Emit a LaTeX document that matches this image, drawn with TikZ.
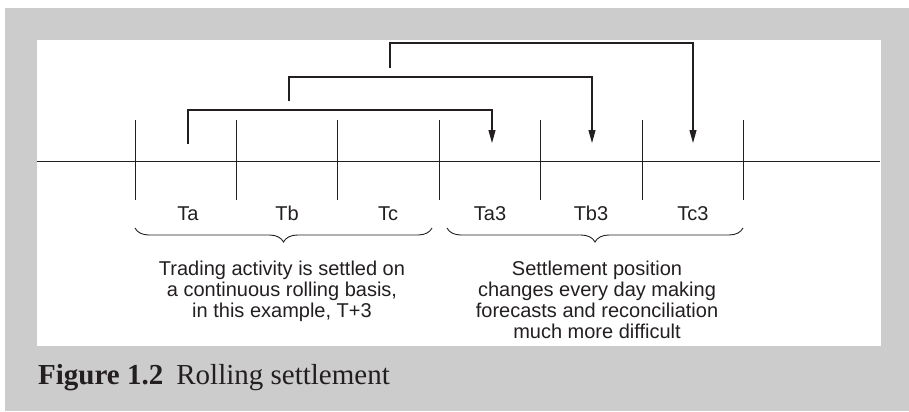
\documentclass[tikz,border=0pt]{standalone}
\usepackage{fontspec}
\setmainfont{Liberation Serif}
\newfontfamily\diagfont{Liberation Sans}
\usetikzlibrary{arrows.meta,decorations.pathreplacing}
\definecolor{panelgrey}{HTML}{CCCCCC}
\definecolor{ink}{HTML}{231F20}

\begin{document}
\begin{tikzpicture}[x=1bp,y=1bp,
  rule/.style={draw=ink,line width=0.9bp},
  link/.style={draw=ink,line width=1.1bp,-{Triangle[length=13bp,width=7bp]}},
  lbl/.style={font=\diagfont\fontsize{20bp}{21bp}\selectfont,text=ink,inner sep=0pt,anchor=base},
  note/.style={lbl,align=center,anchor=north},
  span/.style={draw=ink,line width=0.9bp,decorate,decoration={brace,mirror,amplitude=14bp}}]

% page, grey panel and white figure area
\useasboundingbox (0,0) rectangle (909,-411);
\fill[white] (0,0) rectangle (909,-411);
\fill[panelgrey] (5,-8) rectangle (909,-411);
\fill[white] (37,-40) rectangle (881,-346);

% time axis
\coordinate (axL) at (37,-161);
\coordinate (axR) at (880,-161);
\draw[rule] (axL) -- (axR);

% day boundaries
\foreach \i/\x in {0/135,1/236,2/337,3/439,4/540,5/642,6/743} {
  \coordinate (tt\i) at (\x,-120);
  \coordinate (tb\i) at (\x,-200);
  \draw[rule] (tt\i) -- (tb\i);
}

% trade day to settlement day links
\coordinate (s1) at (188,-144); \coordinate (k1) at (492,-110); \coordinate (e1) at (492,-143);
\coordinate (s2) at (289,-101); \coordinate (k2) at (592,-77);  \coordinate (e2) at (592,-143);
\coordinate (s3) at (390,-68);  \coordinate (k3) at (693,-43);  \coordinate (e3) at (693,-143);
\draw[link] (s1) |- (k1) -- (e1);
\draw[link] (s2) |- (k2) -- (e2);
\draw[link] (s3) |- (k3) -- (e3);

% day labels
\node[lbl] (ta)  at (188,-220) {Ta};
\node[lbl] (tb)  at (287,-220) {Tb};
\node[lbl] (tc)  at (388,-220) {Tc};
\node[lbl] (ta3) at (490,-220) {Ta3};
\node[lbl] (tb3) at (591,-220) {Tb3};
\node[lbl] (tc3) at (693,-220) {Tc3};

% braces
\coordinate (b1l) at (135,-228); \coordinate (b1r) at (432,-228);
\coordinate (b2l) at (447,-228); \coordinate (b2r) at (743,-228);
\draw[span] (b1l) -- (b1r);
\draw[span] (b2l) -- (b2r);

% explanations
\node[note] (n1) at (282,-260.5) {Trading activity is settled on\\a continuous rolling basis,\\in this example, T+3};
\node[note] (n2) at (597,-260.5) {Settlement position\\changes every day making\\forecasts and reconciliation\\much more difficult};

% caption
\node[anchor=base west,font=\fontsize{29bp}{32bp}\selectfont,text=ink,inner sep=0pt] (cap) at (38,-384)
  {\textbf{Figure 1.2}\hspace{0.45em}Rolling settlement};
\end{tikzpicture}
\end{document}
